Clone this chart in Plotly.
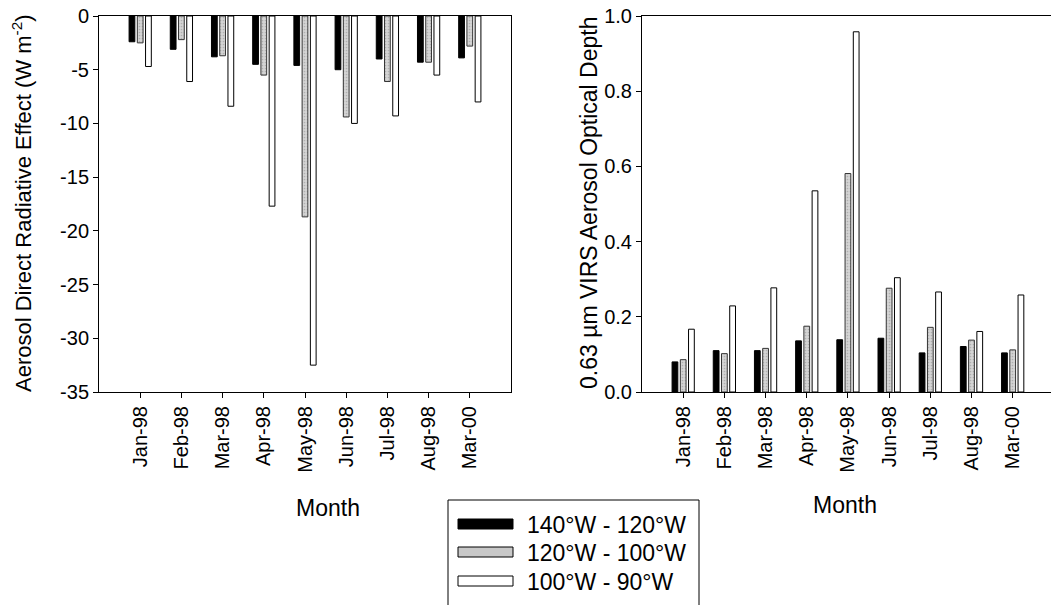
import plotly.graph_objects as go

months = ["Jan-98", "Feb-98", "Mar-98", "Apr-98", "May-98", "Jun-98", "Jul-98", "Aug-98", "Mar-00"]
series_names = ["140°W - 120°W", "120°W - 100°W", "100°W - 90°W"]

# Aerosol direct radiative effect (W m-2)
rad_140_120 = [-2.4, -3.1, -3.8, -4.5, -4.6, -5.0, -4.0, -4.3, -3.9]
rad_120_100 = [-2.5, -2.2, -3.7, -5.5, -18.7, -9.4, -6.1, -4.3, -2.8]
rad_100_90 = [-4.7, -6.1, -8.4, -17.7, -32.5, -10.0, -9.3, -5.5, -8.0]

# 0.63 um VIRS aerosol optical depth
aod_140_120 = [0.080, 0.110, 0.110, 0.136, 0.139, 0.143, 0.104, 0.121, 0.104]
aod_120_100 = [0.086, 0.102, 0.116, 0.175, 0.581, 0.276, 0.172, 0.138, 0.112]
aod_100_90 = [0.167, 0.229, 0.277, 0.535, 0.958, 0.304, 0.266, 0.161, 0.258]

W, H = 1051, 605
FONT = "Liberation Sans, Arial, Helvetica, sans-serif"

styles = [
    dict(color="black", line=dict(color="black", width=1)),
    dict(color="#c4c4c4", line=dict(color="#333333", width=1),
         pattern=dict(shape=".", fgcolor="#8c8c8c", bgcolor="#d4d4d4", size=3, solidity=0.25)),
    dict(color="white", line=dict(color="black", width=1)),
]

fig = go.Figure()
xs = list(range(len(months)))
for vals, st, nm in zip([rad_140_120, rad_120_100, rad_100_90], styles, series_names):
    fig.add_trace(go.Bar(x=xs, y=vals, name=nm, marker=st, xaxis="x", yaxis="y", showlegend=False))
for vals, st, nm in zip([aod_140_120, aod_120_100, aod_100_90], styles, series_names):
    fig.add_trace(go.Bar(x=xs, y=vals, name=nm, marker=st, xaxis="x2", yaxis="y2", showlegend=False))


def px_x(p):
    return p / W


def px_y(p):
    return 1 - p / H


tickfont = dict(family=FONT, size=20, color="black")
axcommon = dict(showgrid=False, zeroline=False, linecolor="black", linewidth=1,
                ticks="outside", ticklen=5, tickcolor="black", tickfont=tickfont,
                automargin=False)

y_dom = [px_y(392), px_y(16)]
rad_ticks = [0, -5, -10, -15, -20, -25, -30, -35]

fig.update_layout(
    width=W, height=H,
    margin=dict(l=0, r=0, t=0, b=0, autoexpand=False),
    paper_bgcolor="white", plot_bgcolor="white",
    barmode="group", bargap=0.4, bargroupgap=0.3,
    font=dict(family=FONT, color="black"),
    xaxis=dict(domain=[px_x(99), px_x(511)], range=[-1, 9], tickmode="array",
               tickvals=xs, ticktext=months, tickangle=-90, mirror=True, anchor="y", **axcommon),
    yaxis=dict(domain=y_dom, range=[-35, 0], tickmode="array",
               tickvals=rad_ticks, ticktext=[str(t) for t in rad_ticks],
               mirror=True, anchor="x", **axcommon),
    yaxis3=dict(domain=y_dom, range=[-35, 0], overlaying="y", side="right", anchor="x",
                tickmode="array", tickvals=rad_ticks, ticks="inside", ticklen=5,
                tickcolor="black", showticklabels=False, showgrid=False, zeroline=False,
                showline=False, automargin=False),
    xaxis2=dict(domain=[px_x(642), 1.0], range=[-1, 8.93], tickmode="array",
                tickvals=xs, ticktext=months, tickangle=-90, mirror=True, anchor="y2", **axcommon),
    yaxis2=dict(domain=y_dom, range=[0, 1.0], tickmode="array",
                tickvals=[0, 0.2, 0.4, 0.6, 0.8, 1.0],
                ticktext=["0.0", "0.2", "0.4", "0.6", "0.8", "1.0"],
                anchor="x2", **axcommon),
)

annos = [
    dict(x=px_x(22), y=px_y(203), text="Aerosol Direct Radiative Effect (W m<sup>-2</sup>)",
         textangle=-90, font=dict(size=22)),
    dict(x=px_x(589), y=px_y(203), text="0.63 µm VIRS Aerosol Optical Depth",
         textangle=-90, font=dict(size=23)),
    dict(x=px_x(328), y=px_y(508), text="Month", font=dict(size=23)),
    dict(x=px_x(845), y=px_y(505), text="Month", font=dict(size=23)),
]
for a in annos:
    a.update(xref="paper", yref="paper", showarrow=False, xanchor="center", yanchor="middle")
    fig.add_annotation(**a)

# Legend (drawn as a boxed key)
shapes = [dict(type="rect", xref="paper", yref="paper", x0=px_x(448), x1=px_x(699),
               y0=px_y(612), y1=px_y(500), line=dict(color="black", width=1), fillcolor="white",
               layer="above")]
row_y = [524, 552, 581]
sw_fill = ["black", "#c8c8c8", "white"]
for ry, fc, nm in zip(row_y, sw_fill, series_names):
    shapes.append(dict(type="rect", xref="paper", yref="paper", x0=px_x(458), x1=px_x(513),
                       y0=px_y(ry + 5), y1=px_y(ry - 5), line=dict(color="black", width=1),
                       fillcolor=fc, layer="above"))
    fig.add_annotation(x=px_x(525), y=px_y(ry + 1), xref="paper", yref="paper", text=nm,
                       showarrow=False, xanchor="left", yanchor="middle", font=dict(size=23))
fig.update_layout(shapes=shapes)

fig.write_html(
    "out.html",
    config={"displayModeBar": False, "staticPlot": True},
    post_script="document.body.style.margin='0';document.body.style.overflow='hidden';",
)
